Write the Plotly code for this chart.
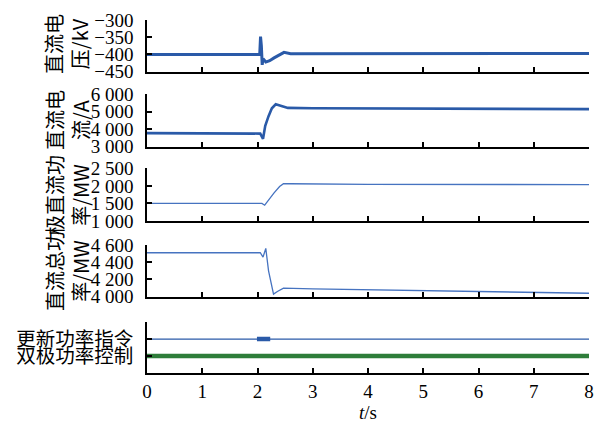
import plotly.graph_objects as go

# ---- data ----
t_volt = [0, 2.04, 2.055, 2.07, 2.085, 2.1, 2.15, 2.22, 2.3, 2.4, 2.48, 2.6, 3.5, 8]
volt = [-400, -400, -348, -375, -430, -412, -422, -418, -410, -400, -394, -398, -398, -397]

t_curr = [0, 0.95, 1.0, 2.05, 2.1, 2.14, 2.2, 2.26, 2.33, 2.45, 2.55, 3.0, 5, 8]
curr = [3780, 3780, 3750, 3750, 3450, 4200, 4750, 5200, 5430, 5300, 5220, 5200, 5170, 5150]

t_pole = [0, 2.08, 2.13, 2.2, 2.3, 2.4, 2.47, 2.6, 3.5, 4.0, 8]
pole_p = [1500, 1500, 1450, 1600, 1800, 1980, 2060, 2060, 2050, 2045, 2035]

t_tot = [0, 2.05, 2.1, 2.15, 2.2, 2.29, 2.36, 2.47, 3.0, 4.0, 6.0, 8]
tot_p = [4510, 4510, 4460, 4560, 4300, 4030, 4060, 4100, 4090, 4080, 4055, 4040]

t_cmd = [0, 8]
cmd = [1, 1]
t_cmd_on = [1.99, 2.23]
cmd_on = [1, 1]
t_bip = [0, 8]
bip = [0, 0]

x_ticks = [0, 1, 2, 3, 4, 5, 6, 7, 8]
y1_ticks = [-450, -400, -350, -300]
y2_ticks = [3000, 4000, 5000, 6000]
y2_text = ["3 000", "4 000", "5 000", "6 000"]
y3_ticks = [1000, 1500, 2000, 2500]
y3_text = ["1 000", "1 500", "2 000", "2 500"]
y4_ticks = [4000, 4200, 4400, 4600]
y4_text = ["4 000", "4 200", "4 400", "4 600"]
y5_ticks = [0, 1]
y5_text = ["双极功率控制", "更新功率指令"]
ylabels = ["直流电<br>压/kV", "直流电<br>流/A", "极直流功<br>率/MW", "直流总功<br>率/MW"]

# ---- layout ----
H = 422
FONT = "Liberation Serif, Noto Sans CJK SC, serif"
CJK = "Noto Sans CJK SC, Liberation Serif"
BLUE = "#2a5aa8"
BLUE2 = "#4673c0"
GREEN = "#2e7d3a"

pix = [(20, 71.7), (94.3, 146.7), (168.3, 221), (245, 296.7), (322.3, 372.7)]
domains = [[1 - b / H, 1 - t / H] for t, b in pix]

fig = go.Figure()
fig.add_trace(go.Scatter(x=t_volt, y=volt, mode="lines", line=dict(color=BLUE, width=3), xaxis="x", yaxis="y"))
fig.add_trace(go.Scatter(x=t_curr, y=curr, mode="lines", line=dict(color=BLUE, width=2.6), xaxis="x2", yaxis="y2"))
fig.add_trace(go.Scatter(x=t_pole, y=pole_p, mode="lines", line=dict(color=BLUE2, width=1.3), xaxis="x3", yaxis="y3"))
fig.add_trace(go.Scatter(x=t_tot, y=tot_p, mode="lines", line=dict(color=BLUE2, width=1.3), xaxis="x4", yaxis="y4"))
fig.add_trace(go.Scatter(x=t_cmd, y=cmd, mode="lines", line=dict(color=BLUE, width=1.2), xaxis="x5", yaxis="y5"))
fig.add_trace(go.Scatter(x=t_cmd_on, y=cmd_on, mode="lines", line=dict(color=BLUE, width=4.5), xaxis="x5", yaxis="y5"))
fig.add_trace(go.Scatter(x=t_bip, y=bip, mode="lines", line=dict(color=GREEN, width=4.5), xaxis="x5", yaxis="y5"))

axis_common = dict(showline=True, linecolor="black", linewidth=1.6, ticks="inside", ticklen=5,
                   tickwidth=1.5, tickcolor="black", showgrid=False, zeroline=False, automargin=False,
                   tickfont=dict(family=FONT, size=19, color="black"))

yspec = [
    dict(range=[-450, -300], tickvals=y1_ticks),
    dict(range=[3000, 6000], tickvals=y2_ticks, ticktext=y2_text),
    dict(range=[1000, 2500], tickvals=y3_ticks, ticktext=y3_text),
    dict(range=[4000, 4600], tickvals=y4_ticks, ticktext=y4_text),
    dict(range=[-1, 2], tickvals=y5_ticks, ticktext=y5_text,
         tickfont=dict(family=CJK, size=19.5, color="black")),
]

lay = {}
for i in range(5):
    sx = "" if i == 0 else str(i + 1)
    lay["xaxis" + sx] = dict(axis_common, domain=[0, 1], range=[0, 8], tickvals=x_ticks,
                             showticklabels=(i == 4), anchor="y" + sx, ticklabelstandoff=1)
    lay["yaxis" + sx] = dict(axis_common, domain=domains[i], anchor="x" + sx,
                             ticklabelstandoff=8)
    lay["yaxis" + sx].update(yspec[i])

PW = 599 - 147 - 10
annotations = []
centers = [44, 120, 195, 271]
for lbl, c in zip(ylabels, centers):
    annotations.append(dict(text=lbl, textangle=-90, x=(67 - 147) / PW, xref="paper", y=1 - c / H, yref="paper",
                            xanchor="center", yanchor="middle", showarrow=False,
                            font=dict(family=CJK, size=20, color="black")))
annotations.append(dict(text="<i>t</i>/s", x=4, xref="x5", y=1 - 412 / H, yref="paper",
                        xanchor="center", yanchor="middle", showarrow=False,
                        font=dict(family=FONT, size=19, color="black")))

fig.update_layout(width=599, height=422, margin=dict(l=147, r=10, t=0, b=0, autoexpand=False),
                  paper_bgcolor="white", plot_bgcolor="white", showlegend=False,
                  annotations=annotations, **lay)

fig.write_html("out.html")
